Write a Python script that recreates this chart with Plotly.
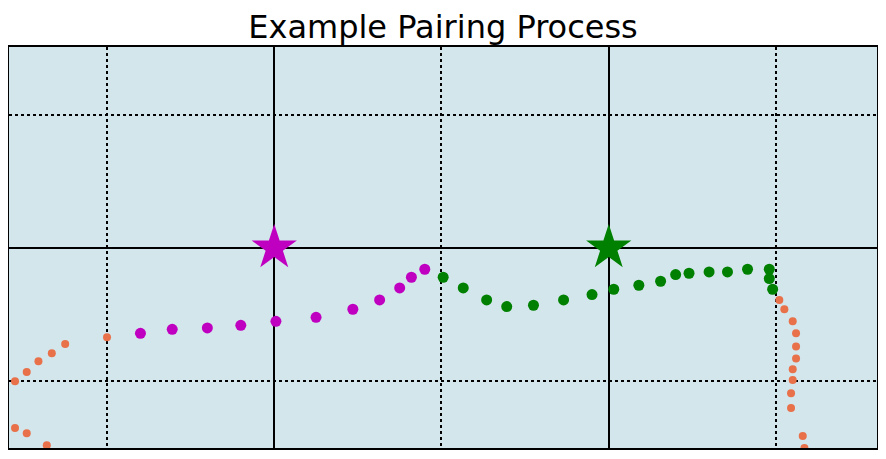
import plotly.graph_objects as go

# 数据（像素读取后换算到网格坐标：竖线间隔为1，横线间隔为1）
magenta_x = [0.20, 0.39, 0.60, 0.80, 1.01, 1.25, 1.47, 1.63, 1.75, 1.82, 1.90]
magenta_y = [-0.64, -0.61, -0.60, -0.58, -0.55, -0.52, -0.46, -0.39, -0.30, -0.22, -0.16]

green_x = [2.01, 2.13, 2.27, 2.39, 2.55, 2.73, 2.90, 3.03, 3.18, 3.31, 3.40, 3.48,
           3.60, 3.71, 3.83, 3.96, 3.96, 3.98]
green_y = [-0.22, -0.30, -0.39, -0.44, -0.43, -0.39, -0.35, -0.31, -0.28, -0.25, -0.20,
           -0.19, -0.18, -0.18, -0.16, -0.16, -0.23, -0.31]

orange_x = [0.00, -0.25, -0.33, -0.41, -0.48, -0.55, -0.55, -0.48, -0.36,
            4.02, 4.05, 4.10, 4.12, 4.12, 4.12, 4.10, 4.10, 4.09, 4.09, 4.16, 4.17]
orange_y = [-0.67, -0.72, -0.79, -0.85, -0.93, -1.00, -1.35, -1.39, -1.48,
            -0.39, -0.46, -0.55, -0.64, -0.74, -0.83, -0.91, -0.99, -1.09, -1.20, -1.41, -1.50]

star_x = [1.0, 3.0]
star_y = [0.0, 0.0]
star_colors = ['#c000c0', '#008000']

major_x = [1, 3]
minor_x = [0, 2, 4]
major_y = [0]
minor_y = [-1, 1]

fig = go.Figure()

fig.add_trace(go.Scatter(x=orange_x, y=orange_y, mode='markers',
                         marker=dict(size=8, color='#e8714a'), showlegend=False))
fig.add_trace(go.Scatter(x=magenta_x, y=magenta_y, mode='markers',
                         marker=dict(size=11, color='#c000c0'), showlegend=False))
fig.add_trace(go.Scatter(x=green_x, y=green_y, mode='markers',
                         marker=dict(size=11, color='#008000'), showlegend=False))
fig.add_trace(go.Scatter(x=star_x, y=star_y, mode='markers',
                         marker=dict(size=34, color=star_colors, symbol='star'),
                         showlegend=False))

axis_common = dict(showticklabels=False, ticks='', zeroline=False, showline=True,
                   linecolor='black', linewidth=2, mirror=True, automargin=False,
                   gridcolor='black', gridwidth=2)

# 页面 body 有 8px 默认边距，尺寸和边距据此调整
fig.update_layout(
    width=870, height=443,
    margin=dict(l=1, r=1, t=39, b=3),
    paper_bgcolor='white',
    plot_bgcolor='#d3e6ec',
    title=dict(text='Example Pairing Process', x=0.5, xanchor='center',
               y=0.958, yanchor='middle',
               font=dict(family='DejaVu Sans', size=32, color='black')),
    xaxis=dict(range=[-0.586, 4.604], tickvals=major_x,
               minor=dict(tickvals=minor_x, showgrid=True, gridcolor='black',
                          gridwidth=2, griddash='3px,3px'),
               **axis_common),
    yaxis=dict(range=[-1.5, 1.506], tickvals=major_y,
               minor=dict(tickvals=minor_y, showgrid=True, gridcolor='black',
                          gridwidth=2, griddash='3px,3px'),
               **axis_common),
)

fig.write_html("out.html")
